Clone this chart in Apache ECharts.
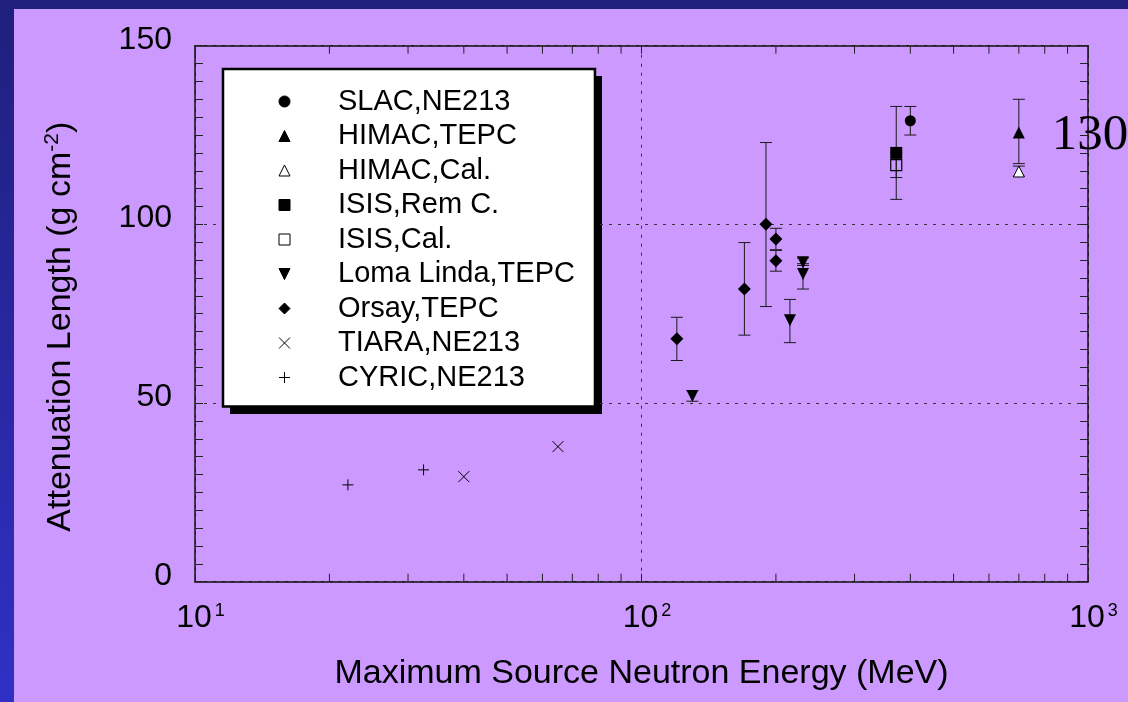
<!DOCTYPE html>
<html>
<head>
<meta charset="utf-8">
<script src="https://cdn.jsdelivr.net/npm/echarts@6/dist/echarts.min.js"></script>
<style>
html,body{margin:0;padding:0;background:#22228a;}
#chart{width:1128px;height:702px;}
</style>
</head>
<body>
<div id="chart"></div>
<script>
// ---- data (Energy MeV, Attenuation length g cm^-2) ----
const seriesNames = ['SLAC,NE213', 'HIMAC,TEPC', 'HIMAC,Cal.', 'ISIS,Rem C.', 'ISIS,Cal.',
  'Loma Linda,TEPC', 'Orsay,TEPC', 'TIARA,NE213', 'CYRIC,NE213'];
const slac = [[400, 129]];
const slacErr = [[400, 125, 133]];
const himacTepc = [[700, 125.7]];
const himacTepcErr = [[700, 117, 135]];
const himacCal = [[700, 114.8]];
const himacCalErr = [[700, 113.5, 116.3]];
const isisRem = [[372, 120]];
const isisRemErr = [[372, 107, 133]];
const isisCal = [[372, 116.6]];
const isisCalErr = [[372, 113.1, 120.1]];
const lomaLinda = [[130, 52], [215, 73.2], [230, 89.4], [230, 86.1]];
const lomaLindaErr = [[130, 50.5, 53.5], [215, 66.9, 79], [230, 88.5, 90.6], [230, 81.9, 89]];
const orsay = [[120, 68], [170, 81.9], [190, 100], [200, 95.9], [200, 89.8]];
const orsayErr = [[120, 61.9, 74], [170, 69, 94.9], [190, 77, 122.9], [200, 92.9, 98.9], [200, 86.9, 92.7]];
const tiara = [[40, 29.4], [65, 37.8]];
const cyric = [[22, 27.1], [32.5, 31.3]];
const annotationText = '130';
const xMinorTicks = [20, 30, 40, 50, 60, 70, 80, 90, 200, 300, 400, 500, 600, 700, 800, 900];
const xRange = [10, 1000];
const yRange = [0, 150];
const yInterval = 50;

const SANS = '"Liberation Sans", Arial, Helvetica, sans-serif';
const SERIF = '"Liberation Serif", "Times New Roman", serif';
const INK = '#000';

const chart = echarts.init(document.getElementById('chart'), null, {renderer: 'canvas'});

function errRender(params, api) {
  const x = api.value(0), lo = api.value(1), hi = api.value(2);
  const a = api.coord([x, lo]), b = api.coord([x, hi]);
  const w = 6;
  const st = {stroke: '#1a1a1a', lineWidth: 1};
  return {type: 'group', children: [
    {type: 'line', shape: {x1: a[0], y1: a[1], x2: b[0], y2: b[1]}, style: st},
    {type: 'line', shape: {x1: a[0] - w, y1: a[1], x2: a[0] + w, y2: a[1]}, style: st},
    {type: 'line', shape: {x1: b[0] - w, y1: b[1], x2: b[0] + w, y2: b[1]}, style: st}
  ]};
}

function tickRender(params, api) {
  const v = api.value(0);
  const a = api.coord([v, yRange[0]]), b = api.coord([v, yRange[1]]);
  const L = 8;
  const st = {stroke: '#222', lineWidth: 1};
  return {type: 'group', children: [
    {type: 'line', shape: {x1: a[0], y1: a[1], x2: a[0], y2: a[1] - L}, style: st},
    {type: 'line', shape: {x1: b[0], y1: b[1], x2: b[0], y2: b[1] + L}, style: st}
  ]};
}

const blackItem = {color: INK, borderColor: INK, borderWidth: 0, opacity: 1};
const openItem = {color: 'rgba(0,0,0,0)', borderColor: INK, borderWidth: 1, opacity: 1};

const option = {
  animation: false,
  graphic: [
    {type: 'rect', silent: true, z: -101, shape: {x: 0, y: 0, width: 1128, height: 702},
      style: {fill: {type: 'linear', x: 0, y: 0, x2: 0, y2: 1,
        colorStops: [{offset: 0, color: '#1f1f7c'}, {offset: 1, color: '#3030c6'}]}}},
    {type: 'rect', silent: true, z: -100, shape: {x: 14, y: 9, width: 1114, height: 693},
      style: {fill: '#cc99ff'}},
    // legend drop shadow
    {type: 'rect', silent: true, z: -50, shape: {x: 230, y: 76, width: 372, height: 338},
      style: {fill: '#000'}}
  ],
  grid: {left: 195, right: 40, top: 45.7, bottom: 120.3, containLabel: false, outerBoundsMode: 'none'},
  legend: {
    orient: 'vertical', left: 223, top: 69,
    backgroundColor: '#ffffff', borderColor: '#000', borderWidth: 2.5, borderRadius: 0,
    padding: [18, 20, 14.5, 55.5],
    itemWidth: 11, itemHeight: 11, itemGap: 5.5,
    selectedMode: false,
    itemStyle: {borderWidth: 1, opacity: 1},
    textStyle: {fontFamily: SANS, fontSize: 29, lineHeight: 29, color: INK, padding: [0, 0, 0, 43]},
    data: seriesNames
  },
  xAxis: [{
    type: 'log', logBase: 10, min: xRange[0], max: xRange[1], position: 'bottom',
    axisLine: {show: true, onZero: false, lineStyle: {color: '#111', width: 1.5}},
    axisTick: {show: true, inside: true, length: 8, lineStyle: {color: '#222'}},
    splitLine: {show: true, lineStyle: {color: '#333', width: 1, type: [3, 6]}},
    axisLabel: {
      show: true, margin: 20, showMinLabel: true, showMaxLabel: true,
      formatter: function (v) { return '{b|10}{s|' + Math.round(Math.log10(v)) + '}'; },
      rich: {
        b: {fontFamily: SANS, fontSize: 32, lineHeight: 32, color: INK, padding: [0, 0, 0, 11]},
        s: {fontFamily: SANS, fontSize: 18, lineHeight: 13, color: INK, verticalAlign: 'top', padding: [0, 0, 0, 3]}
      }
    },
    name: 'Maximum Source Neutron Energy (MeV)', nameLocation: 'middle', nameGap: 75,
    nameTextStyle: {fontFamily: SANS, fontSize: 34, color: INK}
  }, {
    type: 'log', logBase: 10, min: xRange[0], max: xRange[1], position: 'top',
    axisLine: {show: true, onZero: false, lineStyle: {color: '#111', width: 1.5}},
    axisTick: {show: true, inside: true, length: 8, lineStyle: {color: '#222'}},
    splitLine: {show: false}, axisLabel: {show: false}
  }],
  yAxis: [{
    type: 'value', min: yRange[0], max: yRange[1], interval: yInterval, position: 'left',
    axisLine: {show: true, onZero: false, lineStyle: {color: '#111', width: 1.5}},
    axisTick: {show: true, inside: true, length: 8, lineStyle: {color: '#222'}},
    minorTick: {show: true, splitNumber: 10, length: 8, lineStyle: {color: '#222'}},
    splitLine: {show: true, lineStyle: {color: '#333', width: 1, type: [3, 6]}},
    axisLabel: {fontFamily: SANS, fontSize: 32, color: INK, margin: 23,
      verticalAlign: 'bottom', lineHeight: 12},
    name: '{t|Attenuation Length (g cm}{s|-2}{t|)}', nameLocation: 'middle', nameGap: 115, nameRotate: 90,
    nameTextStyle: {
      padding: [0, 26, 0, 0],
      rich: {
        t: {fontFamily: SANS, fontSize: 34, lineHeight: 38, color: INK},
        s: {fontFamily: SANS, fontSize: 21, lineHeight: 10, color: INK, verticalAlign: 'top'}
      }
    }
  }, {
    type: 'value', min: yRange[0], max: yRange[1], interval: yInterval, position: 'right',
    axisLine: {show: true, onZero: false, lineStyle: {color: '#111', width: 1.5}},
    axisTick: {show: true, inside: true, length: 8, lineStyle: {color: '#222'}},
    minorTick: {show: true, splitNumber: 10, length: 8, lineStyle: {color: '#222'}},
    splitLine: {show: false}, axisLabel: {show: false}
  }],
  series: [
    {type: 'custom', name: 'xMinorTicks', xAxisIndex: 0, yAxisIndex: 0, silent: true, z: 1,
      renderItem: tickRender, encode: {x: 0}, data: xMinorTicks.map(v => [v])},
    {type: 'custom', name: 'errorBars', xAxisIndex: 0, yAxisIndex: 0, silent: true, z: 2,
      renderItem: errRender, encode: {x: 0, y: [1, 2]},
      data: [].concat(slacErr, himacTepcErr, himacCalErr, isisRemErr, isisCalErr, lomaLindaErr, orsayErr)},
    {type: 'scatter', name: seriesNames[0], data: slac, symbol: 'circle', symbolSize: 11, z: 5, itemStyle: blackItem},
    {type: 'scatter', name: seriesNames[1], data: himacTepc, symbol: 'triangle', symbolSize: 12, z: 5, itemStyle: blackItem,
      label: {show: true, position: 'right', distance: 27, offset: [0, 3], formatter: annotationText,
        fontFamily: SERIF, fontSize: 51, color: INK}},
    {type: 'scatter', name: seriesNames[2], data: himacCal, symbol: 'triangle', symbolSize: 11, z: 5,
      itemStyle: {color: '#ffffff', borderColor: INK, borderWidth: 1, opacity: 1}},
    {type: 'scatter', name: seriesNames[3], data: isisRem, symbol: 'rect', symbolSize: 12, z: 5, itemStyle: blackItem},
    {type: 'scatter', name: seriesNames[4], data: isisCal, symbol: 'rect', symbolSize: 11, z: 5,
      itemStyle: {color: 'rgba(0,0,0,0)', borderColor: INK, borderWidth: 1.2, opacity: 1}},
    {type: 'scatter', name: seriesNames[5], data: lomaLinda, symbol: 'path://M0,0L10,0L5,10Z', symbolSize: 12, z: 5, itemStyle: blackItem},
    {type: 'scatter', name: seriesNames[6], data: orsay, symbol: 'diamond', symbolSize: 13, z: 5, itemStyle: blackItem},
    {type: 'scatter', name: seriesNames[7], data: tiara, symbol: 'path://M0,0L10,10M10,0L0,10', symbolSize: 11, z: 5,
      itemStyle: openItem},
    {type: 'scatter', name: seriesNames[8], data: cyric, symbol: 'path://M5,0L5,10M0,5L10,5', symbolSize: 11, z: 5,
      itemStyle: openItem}
  ]
};
chart.setOption(option);
</script>
</body>
</html>
